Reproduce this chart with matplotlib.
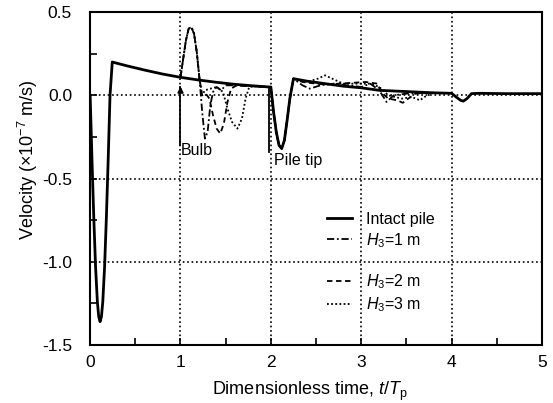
#!/usr/bin/env python3
"""Velocity response of intact pile and piles with bulbs"""
import matplotlib
matplotlib.use("Agg")
import matplotlib.pyplot as plt

plt.rcParams['font.family'] = ['Liberation Sans', 'DejaVu Sans']
plt.rcParams['mathtext.fontset'] = 'custom'
plt.rcParams['mathtext.rm'] = 'Liberation Sans'
plt.rcParams['mathtext.it'] = 'Liberation Sans:italic'
plt.rcParams['axes.unicode_minus'] = False

# Intact pile
intact_t = [0, 0.02, 0.04, 0.06, 0.08, 0.095, 0.11, 0.125, 0.14, 0.16, 0.18,
            0.2, 0.22, 0.245, 0.4, 0.6, 0.8, 1.0, 1.2, 1.4, 1.6, 1.8, 1.98,
            2.0, 2.03, 2.06, 2.09, 2.12, 2.15, 2.18, 2.21, 2.25,
            2.4, 2.6, 2.8, 3.0, 3.2, 3.4, 3.6, 3.8, 4.0,
            4.05, 4.1, 4.13, 4.17, 4.22, 4.3, 4.6, 5.0]
intact_v = [0, -0.38, -0.73, -1.03, -1.24, -1.33, -1.36, -1.33, -1.24, -1.03, -0.73,
            -0.38, 0.0, 0.20, 0.178, 0.152, 0.128, 0.108, 0.092, 0.078, 0.066, 0.057, 0.05,
            0.05, -0.1, -0.22, -0.3, -0.32, -0.27, -0.15, -0.02, 0.1,
            0.085, 0.07, 0.055, 0.045, 0.03, 0.025, 0.02, 0.015, 0.012,
            -0.01, -0.03, -0.035, -0.02, 0.01, 0.012, 0.01, 0.01]

# H3 = 1 m
h1_t = [1.0, 1.03, 1.06, 1.09, 1.12, 1.15, 1.18, 1.21, 1.24, 1.27, 1.3,
        1.33, 1.36, 1.4, 1.45, 1.5, 1.6, 1.8, 1.98,
        2.0, 2.03, 2.06, 2.09, 2.12, 2.15, 2.18, 2.21, 2.25,
        2.35, 2.43, 2.55, 2.7, 2.85, 3.0, 3.1, 3.2, 3.28, 3.36, 3.5, 3.7, 3.9]
h1_v = [0.108, 0.22, 0.33, 0.40, 0.41, 0.37, 0.26, 0.1, -0.1, -0.26, -0.22,
        -0.06, 0.02, 0.05, 0.03, 0.06, 0.06, 0.055, 0.05,
        0.05, -0.1, -0.22, -0.3, -0.32, -0.27, -0.15, -0.02, 0.1,
        0.06, 0.04, 0.06, 0.07, 0.06, 0.05, 0.07, 0.03, -0.04, 0.0, 0.01, 0.015, 0.014]

# H3 = 2 m
h2_t = [1.0, 1.03, 1.06, 1.09, 1.12, 1.15, 1.18, 1.21, 1.24, 1.28, 1.32,
        1.36, 1.4, 1.44, 1.48, 1.52, 1.56, 1.62, 1.8, 1.98,
        2.0, 2.03, 2.06, 2.09, 2.12, 2.15, 2.18, 2.21, 2.25,
        2.35, 2.5, 2.6, 2.75, 2.9, 3.05, 3.18, 3.22, 3.3, 3.4, 3.46, 3.52,
        3.6, 3.8]
h2_v = [0.108, 0.22, 0.33, 0.40, 0.41, 0.37, 0.26, 0.1, 0.0, 0.01, -0.02,
        -0.12, -0.2, -0.23, -0.17, -0.04, 0.04, 0.06, 0.055, 0.05,
        0.05, -0.1, -0.22, -0.3, -0.32, -0.27, -0.15, -0.02, 0.1,
        0.08, 0.07, 0.065, 0.07, 0.075, 0.08, 0.07, 0.02, -0.02, -0.03, -0.045, -0.02,
        0.01, 0.015]

# H3 = 3 m
h3_t = [1.0, 1.03, 1.06, 1.09, 1.12, 1.15, 1.18, 1.21, 1.24, 1.27, 1.33,
        1.4, 1.47, 1.52, 1.57, 1.63, 1.68, 1.72, 1.76, 1.85, 1.98,
        2.0, 2.03, 2.06, 2.09, 2.12, 2.15, 2.18, 2.21, 2.25,
        2.4, 2.52, 2.6, 2.68, 2.8, 2.95, 3.1, 3.2, 3.3, 3.45, 3.56, 3.65,
        3.7, 3.8]
h3_v = [0.108, 0.22, 0.33, 0.40, 0.41, 0.37, 0.26, 0.1, 0.0, 0.03, 0.04,
        0.05, 0.02, -0.08, -0.16, -0.2, -0.14, -0.02, 0.05, 0.055, 0.05,
        0.05, -0.1, -0.22, -0.3, -0.32, -0.27, -0.15, -0.02, 0.1,
        0.08, 0.1, 0.12, 0.1, 0.07, 0.07, 0.07, 0.05, 0.0, -0.02, -0.01, -0.03,
        -0.01, 0.015]

fig = plt.figure(figsize=(5.53, 4.03), dpi=100)
ax = fig.add_axes([0.163, 0.144, 0.817, 0.826])

ls_1 = (0, (4, 1.5, 1, 1.5))
ls_2 = (0, (3, 2))
ls_3 = (0, (1, 1.3))

ax.plot(h3_t, h3_v, color='k', lw=1.3, ls=ls_3)
ax.plot(h2_t, h2_v, color='k', lw=1.3, ls=ls_2)
ax.plot(h1_t, h1_v, color='k', lw=1.3, ls=ls_1)
ax.plot(intact_t, intact_v, color='k', lw=2)

# legend with a blank row between the groups
h_int, = ax.plot([], [], color='k', lw=2)
h_1, = ax.plot([], [], color='k', lw=1.3, ls=ls_1)
h_blank, = ax.plot([], [], color='none')
h_2, = ax.plot([], [], color='k', lw=1.3, ls=ls_2)
h_3, = ax.plot([], [], color='k', lw=1.3, ls=ls_3)
ax.legend([h_int, h_1, h_blank, h_2, h_3],
          ['Intact pile', '$H_3$=1 m', '', '$H_3$=2 m', '$H_3$=3 m'],
          loc='upper left', bbox_to_anchor=(0.524, 0.40), frameon=False,
          fontsize=11.5, handlelength=1.6, handletextpad=0.85,
          labelspacing=0.25, borderpad=0, borderaxespad=0)

# annotations
ax.plot([1.0, 1.0], [-0.30, 0.05], color='k', lw=1.3)
ax.annotate('', xy=(1.0, 0.07), xytext=(1.0, 0.0),
            arrowprops=dict(arrowstyle='-|>', color='k', lw=1.3,
                            mutation_scale=8))
ax.text(1.0, -0.33, 'Bulb', fontsize=11.5, ha='left', va='center')
ax.plot([1.98, 1.98], [-0.34, 0.04], color='k', lw=1.3)
ax.text(2.04, -0.39, 'Pile tip', fontsize=11.5, ha='left', va='center')

ax.set_xlim(0, 5)
ax.set_ylim(-1.5, 0.5)
ax.set_xticks([0, 1, 2, 3, 4, 5])
ax.set_xticks([0.5, 1.5, 2.5, 3.5, 4.5], minor=True)
ax.set_yticks([-1.5, -1.0, -0.5, 0.0, 0.5])
ax.set_yticklabels(['-1.5', '-1.0', '-0.5', '0.0', '0.5'])
ax.set_yticks([-1.25, -0.75, -0.25, 0.25], minor=True)
ax.tick_params(which='both', direction='in', labelsize=12.5, width=1.2, length=5)
ax.tick_params(axis='x', which='major', pad=7)
ax.tick_params(axis='y', which='major', pad=13)
ax.grid(which='major', ls=':', color='k', lw=1.2)
for s in ax.spines.values():
    s.set_linewidth(1.5)

ax.set_xlabel('Dimensionless time, $t$/$T_\\mathrm{p}$', fontsize=13)
ax.set_ylabel('Velocity (\u00d710$^{-7}$ m/s)', fontsize=13)
ax.xaxis.set_label_coords(0.487, -0.105)
ax.yaxis.set_label_coords(-0.11, 0.556)

fig.savefig('out.png', dpi=100)
